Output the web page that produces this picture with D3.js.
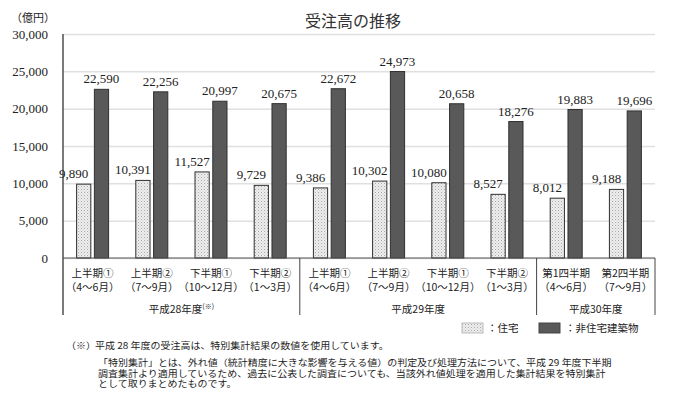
<!DOCTYPE html>
<html>
<head>
<meta charset="utf-8">
<script src="https://cdn.jsdelivr.net/npm/d3@7"></script>
<style>
  body { margin: 0; background: #fff; }
  text { fill: #222; }
</style>
</head>
<body>
<div id="chart"></div>
<script>
// 受注高の推移 (億円)
var periods = ["上半期①", "上半期②", "下半期①", "下半期②", "上半期①", "上半期②", "下半期①", "下半期②", "第1四半期", "第2四半期"];
var months = ["（4～6月）", "（7～9月）", "（10～12月）", "（1～3月）", "（4～6月）", "（7～9月）", "（10～12月）", "（1～3月）", "（4～6月）", "（7～9月）"];
var years = ["平成28年度", "平成29年度", "平成30年度"];
var yearSpan = [4, 4, 2];
var housing = [9890, 10391, 11527, 9729, 9386, 10302, 10080, 8527, 8012, 9188];
var nonHousing = [22590, 22256, 20997, 20675, 22672, 24973, 20658, 18276, 19883, 19696];
var series = ["住宅", "非住宅建築物"];
var yTicks = [0, 5000, 10000, 15000, 20000, 25000, 30000];
var notes = [
  "平成 28 年度の受注高は、特別集計結果の数値を使用しています。",
  "「特別集計」とは、外れ値（統計精度に大きな影響を与える値）の判定及び処理方法について、平成 29 年度下半期",
  "調査集計より適用しているため、過去に公表した調査についても、当該外れ値処理を適用した集計結果を特別集計",
  "として取りまとめたものです。"
];

var width = 690, height = 396;
var plotL = 63, plotR = 655, plotT = 34, base = 258;

var svg = d3.select("#chart").append("svg")
    .attr("width", width)
    .attr("height", height);

// dotted fill for 住宅
var pat = svg.append("defs").append("pattern")
    .attr("id", "dots")
    .attr("width", 3).attr("height", 3)
    .attr("patternUnits", "userSpaceOnUse");
pat.append("rect").attr("width", 3).attr("height", 3).attr("fill", "#eeeeee");
pat.append("rect").attr("width", 1).attr("height", 1).attr("fill", "#a8a8a8");
pat.append("rect").attr("x", 1.5).attr("y", 1.5).attr("width", 1).attr("height", 1).attr("fill", "#c4c4c4");

var idx = d3.range(periods.length);
var x = d3.scaleBand().domain(idx).range([plotL, plotR]);
var x1 = d3.scaleBand().domain(series).range([-16, 16]).paddingInner(0.2);
var y = d3.scaleLinear().domain([0, 30000]).range([base, plotT]);
var fills = { "住宅": "url(#dots)", "非住宅建築物": "#595959" };

// title
svg.append("text")
    .attr("x", 353).attr("y", 27)
    .attr("text-anchor", "middle")
    .style("font", "16px 'Noto Sans CJK JP'")
    .style("fill", "#333")
    .text("受注高の推移");

svg.append("text")
    .attr("x", 11).attr("y", 22)
    .style("font", "11px 'Noto Sans CJK JP'")
    .text("（億円）");

// gridlines + y labels
var yAxis = d3.axisLeft(y).tickValues(yTicks).tickSize(-(plotR - plotL)).tickFormat(d3.format(","));
var gy = svg.append("g").attr("transform", "translate(" + plotL + ",0)").call(yAxis);
gy.select(".domain").remove();
gy.selectAll(".tick line").attr("stroke", "#e0e0e0").attr("stroke-width", 1.5);
gy.selectAll(".tick text")
    .attr("x", -15)
    .style("font", "13px 'Liberation Serif'")
    .style("fill", "#222");

// bars
var rows = [];
idx.forEach(function(i) {
  rows.push({ i: i, s: "住宅", v: housing[i] });
  rows.push({ i: i, s: "非住宅建築物", v: nonHousing[i] });
});

svg.append("g").selectAll("rect")
  .data(rows)
  .enter()
  .append("rect")
    .attr("x", function(d) { return x(d.i) + x.bandwidth() / 2 + x1(d.s); })
    .attr("y", function(d) { return y(d.v); })
    .attr("width", x1.bandwidth())
    .attr("height", function(d) { return base - y(d.v); })
    .attr("fill", function(d) { return fills[d.s]; })
    .attr("stroke", "#303030")
    .attr("stroke-width", 1);

// value labels
svg.append("g").selectAll("text")
  .data(rows)
  .enter()
  .append("text")
    .attr("x", function(d) {
      var c = x(d.i) + x.bandwidth() / 2 + x1(d.s) + x1.bandwidth() / 2;
      return d.s == "住宅" ? c - 10 : c;
    })
    .attr("y", function(d) { return y(d.v) - 6; })
    .attr("text-anchor", "middle")
    .style("font", "13px 'Liberation Serif'")
    .text(function(d) { return d3.format(",")(d.v); });

// axes lines
svg.append("line").attr("x1", plotL).attr("x2", plotL).attr("y1", plotT).attr("y2", 315)
    .attr("stroke", "#222").attr("stroke-width", 1.2);
svg.append("line").attr("x1", plotL).attr("x2", plotR).attr("y1", base).attr("y2", base)
    .attr("stroke", "#555").attr("stroke-width", 1.2);

// year dividers
var cum = 0;
var bounds = [];
yearSpan.forEach(function(n) {
  var a = cum; cum += n;
  bounds.push([a, cum]);
});
function edge(k) { return k < periods.length ? x(k) : plotR; }
bounds.forEach(function(b) {
  svg.append("line").attr("x1", edge(b[1])).attr("x2", edge(b[1])).attr("y1", base).attr("y2", 315)
      .attr("stroke", "#444").attr("stroke-width", 1);
});

// category labels
var gx = svg.append("g");
gx.selectAll(".p").data(idx).enter().append("text")
    .attr("x", function(i) { return x(i) + x.bandwidth() / 2; })
    .attr("y", 277)
    .attr("text-anchor", "middle")
    .style("font", "10.5px 'Noto Sans CJK JP'")
    .text(function(i) { return periods[i]; });
gx.selectAll(".m").data(idx).enter().append("text")
    .attr("x", function(i) { return x(i) + x.bandwidth() / 2; })
    .attr("y", 291)
    .attr("text-anchor", "middle")
    .style("font", "10.5px 'Noto Sans CJK JP'")
    .text(function(i) { return months[i]; });

var yl = gx.selectAll(".y").data(bounds).enter().append("text")
    .attr("x", function(b) { return (x(b[0]) + edge(b[1])) / 2; })
    .attr("y", 313)
    .attr("text-anchor", "middle")
    .style("font", "10.5px 'Noto Sans CJK JP'");
yl.append("tspan").text(function(b, k) { return years[k]; });
yl.filter(function(b, k) { return k == 0; })
  .append("tspan")
    .attr("dy", -4)
    .style("font-size", "7px")
    .text("(※)");

// legend
var leg = svg.append("g");
[[462, 487], [539, 565]].forEach(function(p, k) {
  leg.append("rect")
      .attr("x", p[0]).attr("y", 323).attr("width", 21).attr("height", 10)
      .attr("fill", fills[series[k]])
      .attr("stroke", k == 0 ? "#bbb" : "#444");
  leg.append("text")
      .attr("x", p[1]).attr("y", 332)
      .style("font", "10.5px 'Noto Sans CJK JP'")
      .text("：" + series[k]);
});

// footnote (narrow glyphs stretched to the original line width)
var noteY = [349, 366, 376.5, 387];
svg.append("text")
    .attr("transform", "translate(66,349) scale(1.11,1)")
    .style("font", "9px 'Noto Sans CJK JP'")
    .text("（※）");
svg.selectAll(".note").data(notes).enter().append("text")
    .attr("transform", function(d, i) {
      return "translate(" + (i == 0 ? 95 : 98) + "," + noteY[i] + ") scale(1.11,1)";
    })
    .style("font", "9px 'Noto Sans CJK JP'")
    .text(function(d) { return d; });
</script>
</body>
</html>
